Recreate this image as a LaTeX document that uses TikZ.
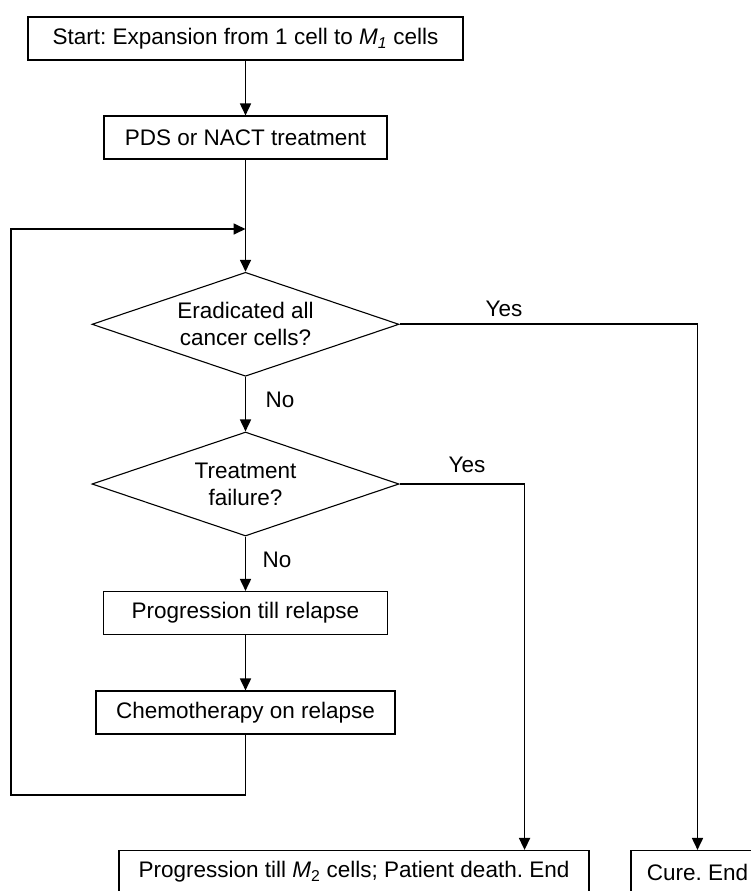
\documentclass[tikz,border=0pt]{standalone}
\usepackage{fontspec}
\setmainfont{Liberation Sans}
\usetikzlibrary{shapes.geometric,arrows.meta,positioning}
\frenchspacing

\begin{document}
\begin{tikzpicture}[x=1pt,y=-1pt,line width=1.7pt,
  every node/.style={font=\fontsize{22.5}{27}\selectfont},
  box/.style={draw,line width=1.1pt,minimum height=43pt,inner sep=0pt},
  decision/.style={draw,line width=1.1pt,diamond,aspect=2.95,minimum width=307pt,minimum height=104pt,inner sep=0pt,align=center},
  arr/.style={-{Triangle[length=12pt,width=11pt]}}]

\useasboundingbox (0,0) rectangle (751,891);

\def\midx{245.5}

% main column
\node[box,minimum width=435pt] (start) at (\midx,38.5) {Start: Expansion from 1 cell to \textit{M}\textsubscript{\textit{1}} cells};

\foreach \nm/\yy/\ww/\txt in {pds/137.5/283/{PDS or NACT treatment},
  prog/613/284/{Progression till relapse},
  chemo/712.5/299/{Chemotherapy on relapse}}
  \node[box,minimum width=\ww pt] (\nm) at (\midx,\yy) {\txt};

\foreach \nm/\yy/\txt in {erad/324.3/{Eradicated all\\cancer cells?},
  fail/484/{Treatment\\failure?}}
  \node[decision] (\nm) at (\midx,\yy) {\txt};

% end boxes
\node[box,minimum width=470pt] (death) at (354,872) {Progression till \textit{M}\textsubscript{2} cells; Patient death. End};
\node[box,minimum width=133pt] (cure) at (697.5,872) {Cure. End};

% yes / no labels
\node (yesa) at (504,309) {Yes};
\node (yesb) at (467,465) {Yes};
\node (noa) at (280,400) {No};
\node (nob) at (277,560) {No};

\coordinate (join) at (\midx,229);
\coordinate (loopl) at (11,795);

% connectors
\draw[arr] (start) -- (pds);
\draw[arr] (pds) -- (erad);
\draw[arr] (erad) -- (fail);
\draw[arr] (fail) -- (prog);
\draw[arr] (prog) -- (chemo);
\draw[arr] (chemo.south) |- (loopl) |- (join);
\draw[arr] (erad.east) -| (cure.north);
\draw[arr] (fail.east) -| ([xshift=-65pt]death.north east);
\end{tikzpicture}
\end{document}
